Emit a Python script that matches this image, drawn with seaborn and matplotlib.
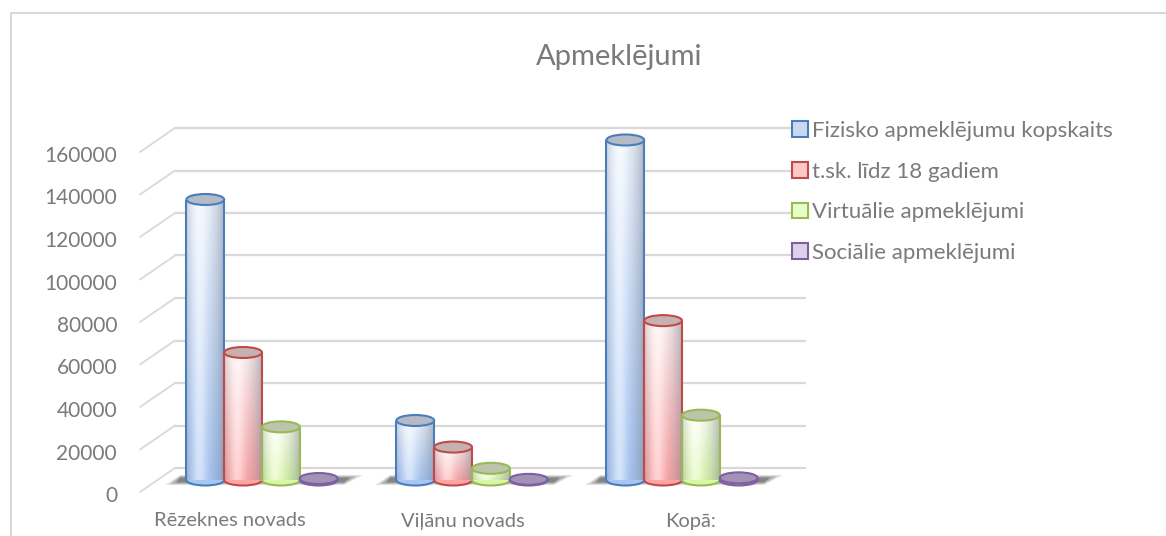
import numpy as np
import pandas as pd
import matplotlib
matplotlib.use("Agg")
import matplotlib.pyplot as plt
import seaborn as sns
from matplotlib.patches import Ellipse, Patch, Rectangle, Polygon
from matplotlib.colors import to_rgb

# data
categories = ["Rēzeknes novads", "Viļānu novads", "Kopā:"]
series = ["Fizisko apmeklējumu kopskaits", "t.sk. līdz 18 gadiem",
          "Virtuālie apmeklējumi", "Sociālie apmeklējumi"]
fiziskie = [132000, 28000, 160000]
lidz_18 = [60000, 15500, 75000]
virtualie = [25000, 5500, 30500]
socialie = [700, 300, 1000]
y_ticks = [0, 20000, 40000, 60000, 80000, 100000, 120000, 140000, 160000]

# colours: outline, body top, body bottom, cap, legend fill
edge_colors = ["#4A7EBB", "#BE4B48", "#98B954", "#7D60A0"]
top_colors = ["#EEF5FE", "#FFF0F0", "#FCFFF2", "#E8E2F0"]
bottom_colors = ["#A6C6F4", "#FFA4A4", "#D8F8A6", "#B3A2C7"]
cap_colors = ["#B4BAC6", "#C6B0B0", "#BCC4AC", "#A292B8"]
legend_fill = ["#C6D9F1", "#FFC8C8", "#E6FFC8", "#DCD0EC"]
text_color = "#7A7A7A"
grid_color = "#D9D9D9"

df = pd.DataFrame({
    "Novads": categories * 4,
    "Sērija": np.repeat(series, len(categories)),
    "Vērtība": fiziskie + lidz_18 + virtualie + socialie,
})

sns.set_theme(style="white")
plt.rcParams["font.family"] = ["Lato", "DejaVu Sans"]

W, H, DPI = 1166, 536, 100
fig = plt.figure(figsize=(W / DPI, H / DPI), dpi=DPI)


def fy(p):  # pixel row -> figure fraction
    return 1 - p / H


# plot area in pixels (bar plane)
left_px, right_px, zero_px, top_px = 140, 805, 480, 140
cat_px0, cat_step = 262, 210
ax = fig.add_axes([left_px / W, fy(zero_px), (right_px - left_px) / W, (zero_px - top_px) / H])

sns.barplot(data=df, x="Novads", y="Vērtība", hue="Sērija", order=categories,
            hue_order=series, palette=edge_colors, width=0.72, saturation=1,
            errorbar=None, legend=False, ax=ax)

ypp = 160000 / (zero_px - top_px)  # data units per pixel
depth = 12 * ypp
back_x = (175 - left_px) / (right_px - left_px)
ytr = ax.get_yaxis_transform()

# back wall gridlines + slanted side lines + tick labels
for t in y_ticks:
    ax.plot([back_x, 1], [t + depth, t + depth], transform=ytr, color=grid_color,
            lw=1.6, clip_on=False, zorder=0)
    ax.plot([0, back_x], [t - depth, t + depth], transform=ytr, color=grid_color,
            lw=1.3, clip_on=False, zorder=0)
    ax.text(-23 / (right_px - left_px), t - depth - 4 * ypp, str(t), transform=ytr,
            ha="right", va="center", fontsize=15, color=text_color)


def cylinder_rgb(top, bottom, nx=80, ny=120):
    u = np.linspace(0, 1, nx)[None, :, None]
    v = np.linspace(0, 1, ny)[:, None, None]
    base = np.array(to_rgb(top)) * (1 - v) + np.array(to_rgb(bottom)) * v
    hl = 0.5 * np.exp(-((u - 0.35) / 0.2) ** 2)
    dark = np.where(u > 0.35, ((u - 0.35) / 0.65) ** 2 * 0.5, ((0.35 - u) / 0.35) ** 2 * 0.3)
    col = base * (1 - hl) + hl
    col = col * (1 - dark) + np.array([0.45, 0.48, 0.55]) * dark
    return np.clip(col, 0, 1)


cap_h = 11 * ypp
for si, cont in enumerate(ax.containers):
    for bar in cont:
        x0, w, h = bar.get_x(), bar.get_width(), bar.get_height()
        bar.set_facecolor("none")
        bar.set_edgecolor("none")
        img = ax.imshow(cylinder_rgb(top_colors[si], bottom_colors[si]),
                        extent=[x0, x0 + w, 0, h], aspect="auto", origin="upper",
                        interpolation="bilinear", zorder=2)
        img.set_clip_path(bar)
        ax.add_patch(Ellipse((x0 + w / 2, 0), w, cap_h, facecolor=bottom_colors[si],
                             edgecolor=edge_colors[si], lw=1.5, zorder=1.9, clip_on=False))
        ax.vlines([x0, x0 + w], 0, h, color=edge_colors[si], lw=1.5, zorder=3)
        ax.add_patch(Ellipse((x0 + w / 2, h), w, cap_h, facecolor=cap_colors[si],
                             edgecolor=edge_colors[si], lw=1.5, zorder=4, clip_on=False))

# soft shadow under each group
for ci in range(len(categories)):
    gl = ax.containers[0][ci].get_x()
    gr = ax.containers[-1][ci].get_x() + ax.containers[-1][ci].get_width()
    for k, a in [(1.0, 0.2), (0.75, 0.35), (0.5, 0.5)]:
        ax.add_patch(Polygon([(gl - 0.1 * k, -5 * ypp * k), (gl - 0.03, 5 * ypp * k),
                              (gr + 0.12 * k, 5 * ypp * k), (gr + 0.03, -5 * ypp * k)],
                             closed=True, facecolor="#5A5A5A", edgecolor="none",
                             alpha=a, zorder=1.5, clip_on=False))

ax.set_xlim((left_px - cat_px0) / cat_step, (right_px - cat_px0) / cat_step)
ax.set_ylim(0, 160000)
ax.set_axis_off()

# category labels sit at the front edge
label_shift_px = [-32, -9, 9]
for ci, name in enumerate(categories):
    ax.text(ci + label_shift_px[ci] / cat_step, -41 * ypp, name, ha="center", va="center",
            fontsize=14.5, color=text_color, clip_on=False)

fig.text(619 / W, fy(57), "Apmeklējumi", ha="center", va="center", fontsize=21,
         color=text_color)

handles = [Patch(facecolor=legend_fill[i], edgecolor=edge_colors[i], lw=1.5, label=series[i])
           for i in range(len(series))]
fig.legend(handles=handles, loc="upper left", bbox_to_anchor=(792 / W, fy(121)),
           frameon=False, fontsize=16, labelcolor=text_color, handlelength=0.7,
           handleheight=0.7, handletextpad=0.2, labelspacing=0.93, borderpad=0,
           borderaxespad=0)

fig.add_artist(Rectangle((11 / W, -0.5), 2, fy(13) + 0.5, transform=fig.transFigure,
                         fill=False, edgecolor=grid_color, lw=1.5))

fig.savefig("out.png", dpi=DPI, facecolor="white")
